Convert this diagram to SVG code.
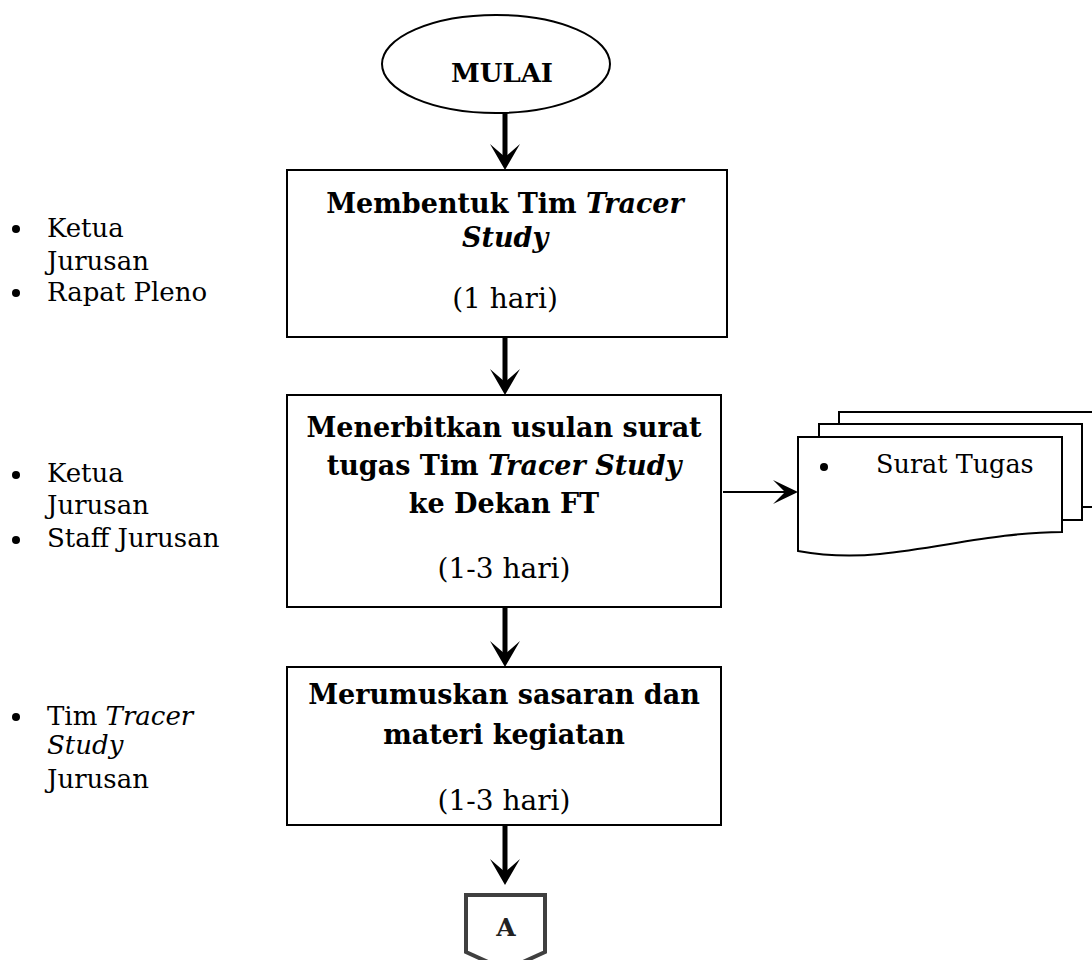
<svg xmlns="http://www.w3.org/2000/svg" width="1092" height="960" viewBox="0 0 1092 960">
<defs>
<style>
text{font-family:"DejaVu Serif","Liberation Serif",serif;fill:#000}
.b{font-weight:bold;font-size:27px}
.r{font-size:28px}
.l{font-size:26px}
.s{font-size:25.5px}
.i{font-style:italic}
.box{fill:#fff;stroke:#000;stroke-width:2}
.doc{fill:#fff;stroke:#000;stroke-width:2}
.shaft{stroke:#000;stroke-width:5;fill:none}
</style>
<path id="hd" d="M0,0 L-15,-26 L0,-13 L15,-26 Z"/>
</defs>

<g id="mulai">
<ellipse cx="496" cy="64" rx="114" ry="49" fill="#fff" stroke="#000" stroke-width="2"/>
<text class="b" x="502" y="82" text-anchor="middle" style="font-size:26px">MULAI</text>
</g>

<g id="step1">
<rect class="box" x="287" y="170" width="440" height="167"/>
<text class="b" x="505" y="213" text-anchor="middle">Membentuk Tim <tspan class="i">Tracer</tspan></text>
<text class="b i" x="505" y="247" text-anchor="middle">Study</text>
<text class="r" x="505" y="308" text-anchor="middle">(1 hari)</text>
</g>

<g id="step2">
<rect class="box" x="287" y="395" width="434" height="212"/>
<text class="b" x="504" y="437" text-anchor="middle">Menerbitkan usulan surat</text>
<text class="b" x="504" y="475" text-anchor="middle">tugas Tim <tspan class="i">Tracer Study</tspan></text>
<text class="b" x="504" y="513" text-anchor="middle">ke Dekan FT</text>
<text class="r" x="504" y="578" text-anchor="middle">(1-3 hari)</text>
</g>

<g id="step3">
<rect class="box" x="287" y="667" width="434" height="158"/>
<text class="b" x="504" y="704" text-anchor="middle">Merumuskan sasaran dan</text>
<text class="b" x="504" y="744" text-anchor="middle">materi kegiatan</text>
<text class="r" x="504" y="810" text-anchor="middle">(1-3 hari)</text>
</g>

<g id="surat-tugas">
<path class="doc" d="M839,507 V412 H1100 V507 Z"/>
<path class="doc" d="M819,520 V424 H1082 V520 Z"/>
<path class="doc" d="M798,437 H1062 V532 C1000,532 940,548 880,554 C850,557 820,555 798,551 Z"/>
<circle cx="824" cy="467" r="4" fill="#000"/>
<text class="s" x="876" y="473">Surat Tugas</text>
</g>

<g id="connector-a">
<path d="M466,895 H545 V952 L505.5,970 L466,952 Z" fill="#fff" stroke="#404040" stroke-width="4"/>
<text class="b" x="506" y="936" text-anchor="middle" style="font-size:25px;fill:#222">A</text>
</g>

<g id="pelaksana1">
<circle cx="16" cy="229" r="4" fill="#000"/>
<text class="l" x="47" y="237">Ketua</text>
<text class="l" x="47" y="270">Jurusan</text>
<circle cx="16" cy="293" r="4" fill="#000"/>
<text class="l" x="47" y="301">Rapat Pleno</text>
</g>

<g id="pelaksana2">
<circle cx="16" cy="475" r="4" fill="#000"/>
<text class="l" x="47" y="482">Ketua</text>
<text class="l" x="47" y="514">Jurusan</text>
<circle cx="16" cy="540" r="4" fill="#000"/>
<text class="l" x="47" y="547">Staff Jurusan</text>
</g>

<g id="pelaksana3">
<circle cx="16" cy="717" r="4" fill="#000"/>
<text class="l" x="47" y="725">Tim <tspan class="i">Tracer</tspan></text>
<text class="l i" x="47" y="754">Study</text>
<text class="l" x="47" y="788">Jurusan</text>
</g>

<g id="connectors">
<line class="shaft" x1="505" y1="113" x2="505" y2="158"/>
<use href="#hd" x="505" y="170"/>
<line class="shaft" x1="505" y1="337" x2="505" y2="383"/>
<use href="#hd" x="505" y="395"/>
<line class="shaft" x1="505" y1="607" x2="505" y2="655"/>
<use href="#hd" x="505" y="667"/>
<line class="shaft" x1="505" y1="825" x2="505" y2="873"/>
<use href="#hd" x="505" y="885"/>
<line x1="723" y1="492" x2="785" y2="492" stroke="#000" stroke-width="2"/>
<path d="M798,492 L773,480 L785,492 L773,504 Z" fill="#000"/>
</g>
</svg>
